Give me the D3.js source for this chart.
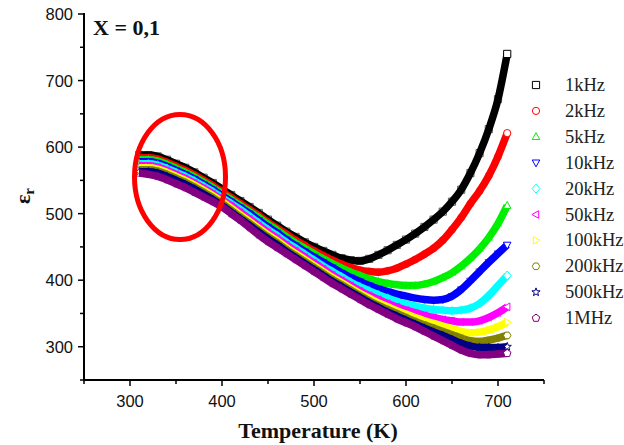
<!DOCTYPE html>
<html><head><meta charset="utf-8">
<script src="https://cdn.jsdelivr.net/npm/d3@7"></script>
<style>
html,body{margin:0;padding:0;background:#fff;}
svg{display:block;}
</style></head>
<body>
<script>
// ---- data ----
const temperature = d3.range(310, 711, 10); // K
const seriesNames = ["1kHz","2kHz","5kHz","10kHz","20kHz","50kHz","100kHz","200kHz","500kHz","1MHz"];
const seriesColors = ["#000000","#ff0000","#00ee00","#0000ff","#00ffff","#ff00ff","#ffff00","#808000","#000080","#800080"];
const seriesShapes = ["square","circle","triUp","triDown","diamond","triLeft","triRight","hexagon","star","pentagon"];

const eps1kHz   = [588,588,586,581,575,569,562,554,546,537,528,519,510,501,491,482,473,465,457,450,444,438,433,430,429,432,438,445,453,461,470,480,491,503,518,536,561,591,627,672,740];
const eps2kHz   = [584,584,582,577,571,565,558,550,542,533,524,515,506,497,487,478,469,460,452,444,437,430,424,419,415,413,412,414,418,424,431,439,448,460,476,494,515,534,557,586,621];
const eps5kHz   = [581,581,579,574,568,562,555,547,539,530,521,512,503,494,484,475,465,456,448,440,432,425,418,412,407,402,398,395,393,392,392,394,398,404,411,421,433,447,464,485,512];
const eps10kHz  = [578,578,576,571,565,559,552,544,536,527,518,509,500,490,480,471,461,452,443,435,427,419,411,404,398,392,387,383,379,376,373,371,370,371,376,386,399,413,427,440,453];
const eps20kHz  = [575,575,573,568,562,556,549,541,533,524,515,506,496,486,476,467,457,448,439,430,421,413,405,397,390,384,378,373,368,364,361,358,356,355,354,355,358,365,377,392,407];
const eps50kHz  = [572,572,570,565,559,553,546,538,530,521,512,502,492,482,472,463,453,444,435,426,417,408,400,392,384,377,371,365,360,355,351,347,344,341,339,337,337,339,344,351,360];
const eps100kHz = [569,569,567,562,556,550,543,535,527,518,508,498,488,478,468,459,449,440,431,422,413,404,396,388,380,373,366,360,354,349,344,339,335,331,327,323,321,322,325,330,337];
const eps200kHz = [566,566,564,559,553,547,540,532,524,515,505,495,485,475,465,456,446,437,428,419,410,401,393,385,377,369,362,356,350,344,338,333,328,323,318,313,309,308,310,313,317];
const eps500kHz = [563,563,561,556,550,544,537,529,521,512,502,492,482,472,462,453,443,434,425,416,407,398,390,382,374,366,359,352,346,340,334,328,322,317,311,305,301,299,299,299,300];
const eps1MHz   = [561,559,556,551,545,539,532,525,518,510,500,490,479,468,458,449,440,431,422,413,404,395,387,379,371,363,356,349,342,336,330,323,316,309,302,295,290,288,288,289,290];
const seriesValues = [eps1kHz,eps2kHz,eps5kHz,eps10kHz,eps20kHz,eps50kHz,eps100kHz,eps200kHz,eps500kHz,eps1MHz];

const xMajorTicks = [300,400,500,600,700];
const xMinorTicks = [250,350,450,550,650,750];
const yMajorTicks = [300,400,500,600,700,800];
const yMinorTicks = [250,350,450,550,650,750];

// ---- layout ----
const W = 624, H = 445;
const X0 = 84, X1 = 544, Y0 = 380, Y1 = 14;
const svg = d3.select("body").append("svg").attr("width", W).attr("height", H);
const x = d3.scaleLinear().domain([250, 750]).range([X0, X1]);
const y = d3.scaleLinear().domain([250, 800]).range([Y0, Y1]);

// ---- marker shapes ----
function shapePath(type, r) {
  const poly = pts => "M" + pts.map(p => p[0].toFixed(2) + "," + p[1].toFixed(2)).join("L") + "Z";
  const reg = (n, rad, rot) => d3.range(n).map(i => {
    const a = rot + i * 2 * Math.PI / n;
    return [rad * Math.cos(a), rad * Math.sin(a)];
  });
  switch (type) {
    case "square": return poly([[-r,-r],[r,-r],[r,r],[-r,r]]);
    case "circle": return d3.symbol(d3.symbolCircle, Math.PI * r * r)();
    case "triUp": return poly([[0,-r*1.15],[r*1.05,r*0.75],[-r*1.05,r*0.75]]);
    case "triDown": return poly([[0,r*1.15],[r*1.05,-r*0.75],[-r*1.05,-r*0.75]]);
    case "diamond": return poly([[0,-r*1.25],[r*1.1,0],[0,r*1.25],[-r*1.1,0]]);
    case "triLeft": return poly([[-r*1.15,0],[r*0.75,-r*1.05],[r*0.75,r*1.05]]);
    case "triRight": return poly([[r*1.15,0],[-r*0.75,-r*1.05],[-r*0.75,r*1.05]]);
    case "hexagon": return poly(reg(6, r*1.05, 0));
    case "star": {
      const pts = d3.range(10).map(i => {
        const a = -Math.PI/2 + i * Math.PI / 5;
        const rad = i % 2 ? r*0.5 : r*1.2;
        return [rad*Math.cos(a), rad*Math.sin(a)];
      });
      return poly(pts);
    }
    case "pentagon": return poly(reg(5, r*1.1, -Math.PI/2));
  }
}

// ---- series ----
const line = d3.line().x(d => x(d[0])).y(d => y(d[1])).curve(d3.curveMonotoneX);
seriesValues.forEach((vals, i) => {
  const pts = temperature.map((t, j) => [t, vals[j]]);
  const g = svg.append("g");
  g.append("path").attr("d", line(pts)).attr("fill", "none")
    .attr("stroke", seriesColors[i]).attr("stroke-width", 7.5).attr("stroke-linejoin", "round");
  g.selectAll("path.m").data(pts).join("path").attr("class", "m")
    .attr("transform", d => `translate(${x(d[0])},${y(d[1])})`)
    .attr("d", shapePath(seriesShapes[i], 3.6))
    .attr("fill", (d, j) => j === pts.length - 1 ? "#fff" : "none")
    .attr("stroke", (d, j) => j === pts.length - 1 ? seriesColors[i] : d3.color(seriesColors[i]).brighter(0.3))
    .attr("stroke-opacity", (d, j) => j === pts.length - 1 ? 1 : 0.6)
    .attr("stroke-width", 1);
});

// ---- axes ----
const axisG = svg.append("g").attr("stroke", "#000");
axisG.append("line").attr("x1", X0).attr("x2", X0).attr("y1", Y1 - 1).attr("y2", Y0 + 1).attr("stroke-width", 2);
axisG.append("line").attr("x1", X0 - 1).attr("x2", X1).attr("y1", Y0).attr("y2", Y0).attr("stroke-width", 2);
xMajorTicks.forEach(t => axisG.append("line").attr("x1", x(t)).attr("x2", x(t)).attr("y1", Y0).attr("y2", Y0 + 6).attr("stroke-width", 1.5));
xMinorTicks.forEach(t => axisG.append("line").attr("x1", x(t)).attr("x2", x(t)).attr("y1", Y0).attr("y2", Y0 + 4).attr("stroke-width", 1.5));
yMajorTicks.forEach(t => axisG.append("line").attr("x1", X0 - 6).attr("x2", X0).attr("y1", y(t)).attr("y2", y(t)).attr("stroke-width", 1.5));
yMinorTicks.forEach(t => axisG.append("line").attr("x1", X0 - 4).attr("x2", X0).attr("y1", y(t)).attr("y2", y(t)).attr("stroke-width", 1.5));

svg.append("g").selectAll("text").data(xMajorTicks).join("text")
  .attr("x", d => x(d)).attr("y", Y0 + 27).attr("text-anchor", "middle")
  .attr("font-family", "Liberation Sans, Arial, sans-serif").attr("font-size", 16.5).attr("fill", "#111")
  .text(d => d);
svg.append("g").selectAll("text").data(yMajorTicks).join("text")
  .attr("x", X0 - 11).attr("y", d => y(d) + 6).attr("text-anchor", "end")
  .attr("font-family", "Liberation Sans, Arial, sans-serif").attr("font-size", 16.5).attr("fill", "#111")
  .text(d => d);

// axis titles
svg.append("text").attr("x", 318).attr("y", 438).attr("text-anchor", "middle")
  .attr("font-family", "Liberation Serif, Times New Roman, serif").attr("font-weight", "bold")
  .attr("font-size", 22).attr("fill", "#111").text("Temperature (K)");
const yl = svg.append("text").attr("transform", "translate(30,196) rotate(-90)").attr("text-anchor", "middle")
  .attr("font-family", "Liberation Serif, Times New Roman, serif").attr("font-weight", "bold").attr("font-size", 22).attr("fill", "#111");
yl.append("tspan").text("ε");
yl.append("tspan").attr("font-size", 15).attr("dy", 4).text("r");

// annotation
svg.append("text").attr("x", 93).attr("y", 35)
  .attr("font-family", "Liberation Serif, Times New Roman, serif").attr("font-weight", "bold")
  .attr("font-size", 22).attr("fill", "#111").text("X = 0,1");

// ---- legend ----
const legY0 = 85, legDY = 25.9;
const leg = svg.append("g");
seriesNames.forEach((n, i) => {
  const cy = legY0 + i * legDY;
  leg.append("path").attr("transform", `translate(536,${cy})`).attr("d", shapePath(seriesShapes[i], 3.6))
    .attr("fill", "none").attr("stroke", seriesColors[i]).attr("stroke-width", 1);
  leg.append("text").attr("x", 565).attr("y", cy + 6)
    .attr("font-family", "Liberation Serif, Times New Roman, serif").attr("font-size", 18.5).attr("fill", "#222").text(n);
});

// ---- red ellipse ----
svg.append("ellipse").attr("cx", 180).attr("cy", 177).attr("rx", 45.5).attr("ry", 62.5)
  .attr("fill", "none").attr("stroke", "#ff0000").attr("stroke-width", 5);
</script>
</body></html>
